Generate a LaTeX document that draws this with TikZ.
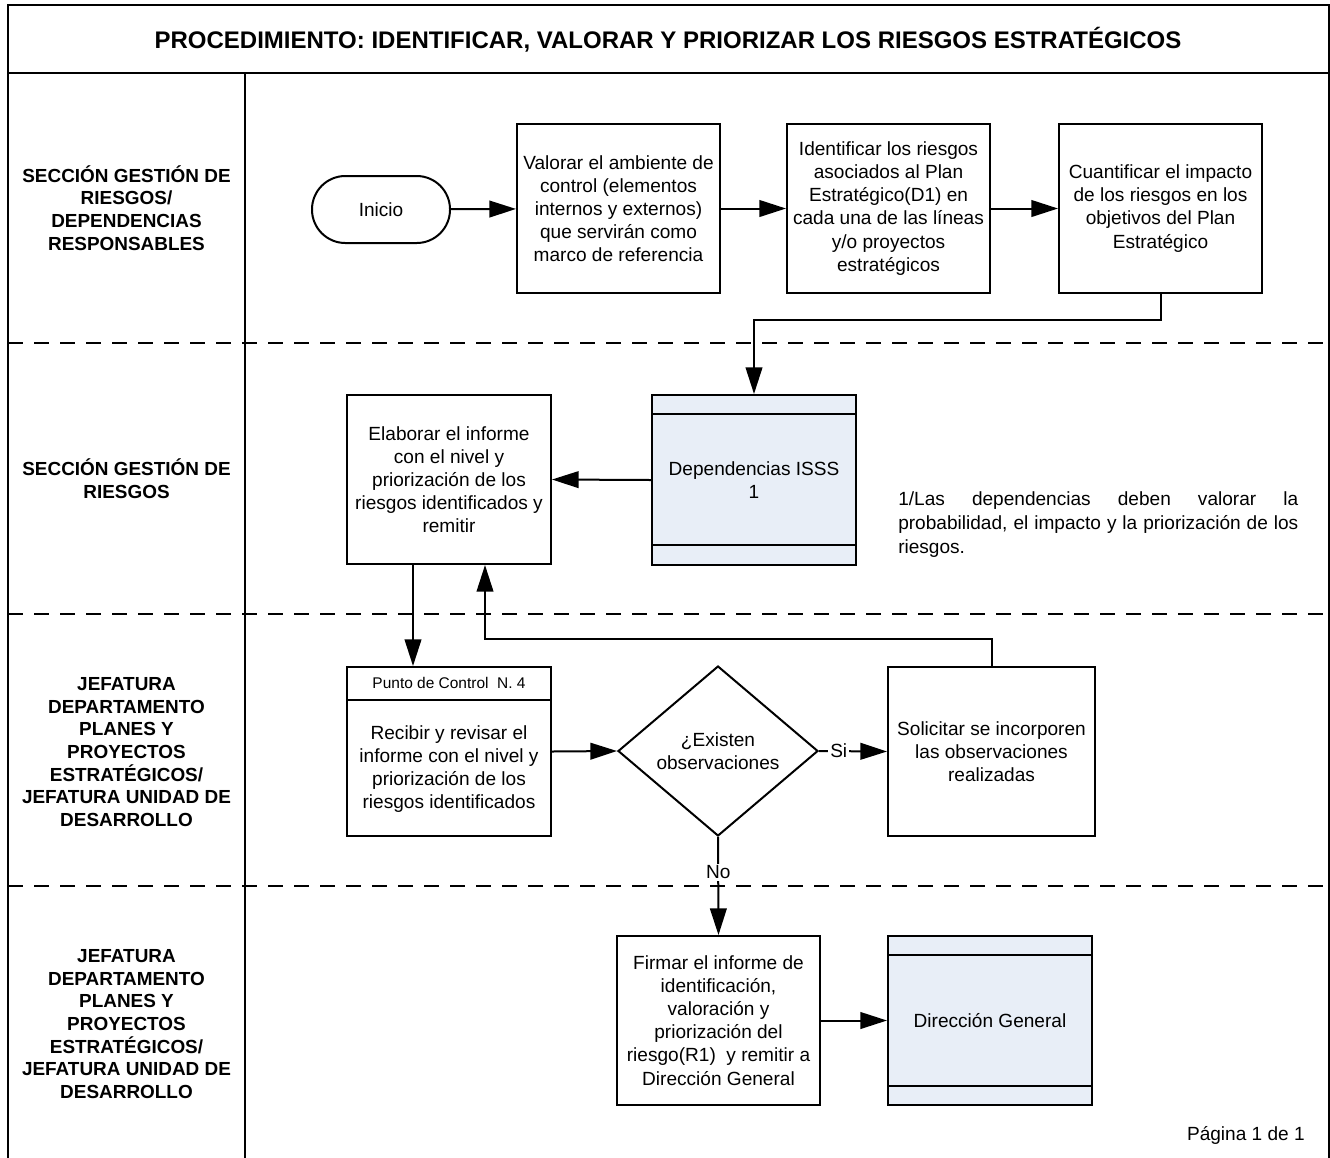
\documentclass[tikz,border=0pt]{standalone}
\usepackage{fontspec}
\setmainfont{Liberation Sans}
\usetikzlibrary{arrows.meta,shapes.geometric,calc}
\newdimen\px \px=0.75pt
\definecolor{dbfill}{RGB}{232,238,247}

\begin{document}
\begin{tikzpicture}[x=0.75pt,y=-0.75pt,
  every node/.style={inner sep=0pt},
  body/.style={font=\fontsize{14.3pt}{17.3pt}\selectfont, align=center},
  lanelabel/.style={font=\bfseries\fontsize{14.2pt}{17pt}\selectfont, align=center},
  frameline/.style={line width=2pt},
  laneline/.style={line width=1.5pt, dash pattern=on 11pt off 8.5pt},
  proc/.style={draw, line width=1.5pt, body, minimum width=203\px, minimum height=169\px},
  store/.style={draw, line width=1.5pt, fill=dbfill, body, minimum width=204\px, minimum height=170\px},
  term/.style={draw, line width=1.5pt, body, rounded corners=25pt, minimum width=138\px, minimum height=67\px},
  decision/.style={draw, line width=1.5pt, body, diamond, aspect=1.18, minimum width=200\px, minimum height=170\px},
  arr/.style={line width=1.5pt, -{Triangle[length=20pt,width=12.5pt]}},
  edgelabel/.style={body, fill=white, inner sep=1.5pt}
]
\useasboundingbox (0,0) rectangle (1330,1157);

% outer frame, title bar and lane column
\draw[frameline] (8,1162) -- (8,5) -- (1329,5) -- (1329,1162);
\draw[frameline] (8,73) -- (1329,73);
\draw[line width=1.6pt] (245,73) -- (245,1162);
\node[font=\bfseries\fontsize{18pt}{21pt}\selectfont] (title) at (668,40)
  {PROCEDIMIENTO: IDENTIFICAR, VALORAR Y PRIORIZAR LOS RIESGOS ESTRATÉGICOS};

% lane separators
\draw[laneline] (8,343) -- (1329,343);
\draw[laneline] (8,614) -- (1329,614);
\draw[laneline] (8,886) -- (1329,886);

% lane labels
\node[lanelabel] (lane1) at (126.5,208) {SECCIÓN GESTIÓN DE\\RIESGOS/\\DEPENDENCIAS\\RESPONSABLES};
\node[lanelabel] (lane2) at (126.5,478.5) {SECCIÓN GESTIÓN DE\\RIESGOS};
\node[lanelabel] (lane3) at (126.5,752) {JEFATURA\\DEPARTAMENTO\\PLANES Y\\PROYECTOS\\ESTRATÉGICOS/\\JEFATURA UNIDAD DE\\DESARROLLO};
\node[lanelabel] (lane4) at (126.5,1024) {JEFATURA\\DEPARTAMENTO\\PLANES Y\\PROYECTOS\\ESTRATÉGICOS/\\JEFATURA UNIDAD DE\\DESARROLLO};

% lane 1
\node[term] (inicio) at (381,209.5) {Inicio};
\node[proc] (valorar) at (618.5,208.5) {Valorar el ambiente de\\control (elementos\\internos y externos)\\que servirán como\\marco de referencia};
\node[proc] (ident) at (888.5,208.5) {Identificar los riesgos\\asociados al Plan\\Estratégico(D1) en\\cada una de las líneas\\y/o proyectos\\estratégicos};
\node[proc] (cuant) at (1160.5,208.5) {Cuantificar el impacto\\de los riesgos en los\\objetivos del Plan\\Estratégico};

% lane 2
\node[store] (dep) at (754,480) {Dependencias ISSS\\1};
\draw[line width=1.5pt] ($(dep.north west)+(0,20)$) -- ($(dep.north east)+(0,20)$);
\draw[line width=1.5pt] ($(dep.south west)+(0,-21)$) -- ($(dep.south east)+(0,-21)$);
\node[proc, minimum width=204\px] (elab) at (449,479.5) {Elaborar el informe\\con el nivel y\\priorización de los\\riesgos identificados y\\remitir};
\node[body, align=justify, text width=400\px, anchor=north west, font=\fontsize{14.3pt}{18pt}\selectfont] (nota) at (898,491)
  {1/Las dependencias deben valorar la\linebreak probabilidad, el impacto y la priorización de los\linebreak riesgos.};

% lane 3
\node[draw, line width=1.5pt, minimum width=204\px, minimum height=169\px] (rec) at (449,751.5) {};
\draw[line width=1.5pt] ($(rec.north west)+(0,34)$) -- ($(rec.north east)+(0,34)$);
\node[font=\fontsize{11.6pt}{14pt}\selectfont] (rechead) at ($(rec.north)+(0,17)$) {Punto de Control~ N. 4};
\node[body] (rectext) at (449,769) {Recibir y revisar el\\informe con el nivel y\\priorización de los\\riesgos identificados};
\node[decision] (dia) at (718,751) {¿Existen\\observaciones};
\node[proc, minimum width=207\px] (sol) at (991.5,751.5) {Solicitar se incorporen\\las observaciones\\realizadas};

% lane 4
\node[proc] (firmar) at (718.5,1020.5) {Firmar el informe de\\identificación,\\valoración y\\priorización del\\riesgo(R1)~ y remitir a\\Dirección General};
\node[store, minimum height=169\px] (dg) at (990,1020.5) {Dirección General};
\draw[line width=1.5pt] ($(dg.north west)+(0,20)$) -- ($(dg.north east)+(0,20)$);
\draw[line width=1.5pt] ($(dg.south west)+(0,-20)$) -- ($(dg.south east)+(0,-20)$);

\node[body, anchor=east] (pagina) at (1305,1135) {Página 1 de 1};

% connectors
\coordinate (down) at (413,0);
\coordinate (up) at (485,0);
\draw[arr] (inicio) -- (valorar);
\draw[arr] (valorar) -- (ident);
\draw[arr] (ident) -- (cuant);
\draw[arr] (cuant.south) -- ++(0,26) -| (dep.north);
\draw[arr] (dep.west) -- (elab.east);
\draw[arr] (elab.south -| down) -- (rec.north -| down);
\draw[arr] (rec.east) -- (dia.west);
\draw[arr] (dia.east) -- node[edgelabel, pos=0.29] {Si} (sol.west);
\draw[arr] (sol.north) -- ++(0,-27) -| (elab.south -| up);
\draw[arr] (dia.south) -- node[edgelabel, pos=0.36] {No} (firmar.north);
\draw[arr] (firmar.east) -- (dg.west);
\end{tikzpicture}
\end{document}
